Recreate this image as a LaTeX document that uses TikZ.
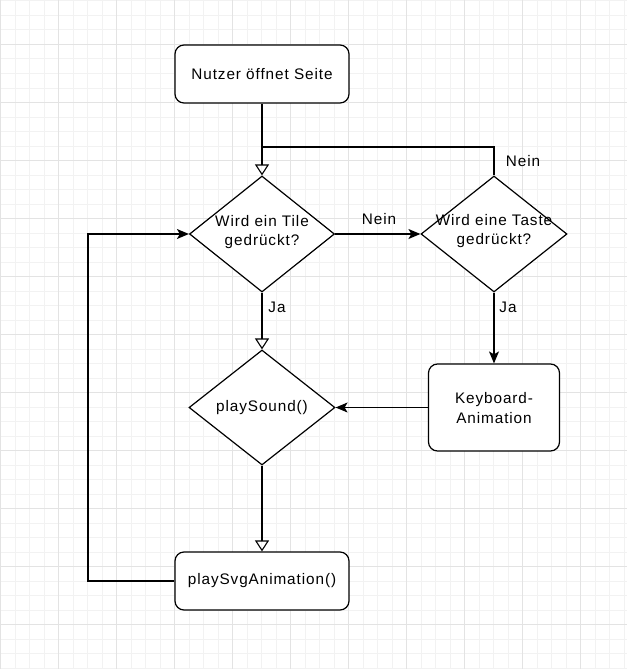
\documentclass[tikz,border=0pt]{standalone}
\usepackage{fontspec}
\setmainfont{Liberation Sans}[LetterSpace=6]
\usetikzlibrary{arrows.meta,shapes.geometric}
\begin{document}
\begin{tikzpicture}[x=1pt,y=-1pt,
  every node/.style={font=\fontsize{15.3}{19.5}\selectfont},
  box/.style={draw,line width=1.2pt,rounded corners=9pt,fill=white,inner sep=0pt},
  dia/.style={draw,line width=1.2pt,diamond,fill=white,inner sep=0pt,minimum width=145pt,minimum height=116pt},
  txt/.style={align=center,inner sep=0pt},
  lbl/.style={inner sep=0pt},
  conn/.style={line width=1.2pt},
  openarr/.style={conn,-{Triangle[open,length=11pt,width=14pt,line width=1.1pt]}},
  solarr/.style={conn,-{Stealth[length=12pt,width=10pt,inset=3pt]}}
]
\useasboundingbox (0,0) rectangle (627,669);
\fill[white] (0,0) rectangle (627,669);
% grid
\foreach \i in {0,...,43} {
  \draw[gray!10,line width=0.6pt] ({0.3+14.5*\i},0) -- ({0.3+14.5*\i},669);
}
\foreach \i in {0,...,46} {
  \draw[gray!10,line width=0.6pt] (0,{0.8+14.5*\i}) -- (627,{0.8+14.5*\i});
}
\foreach \i in {0,...,10} {
  \draw[gray!22,line width=0.7pt] ({0.3+58*\i},0) -- ({0.3+58*\i},669);
}
\foreach \i in {0,...,11} {
  \draw[gray!22,line width=0.7pt] (0,{44.3+58*\i}) -- (627,{44.3+58*\i});
}

% nodes
\node[box,minimum width=174pt,minimum height=58pt] (start) at (262,74) {};
\node[txt] (starttxt) at (start) {Nutzer öffnet Seite};

\node[dia] (tile) at (262,234) {};
\node[txt] (tiletxt) at (262,232) {Wird ein Tile\\gedrückt?};

\node[dia,minimum width=146pt,minimum height=116pt] (taste) at (494,234) {};
\node[txt] (tastetxt) at (494,231) {Wird eine Taste\\gedrückt?};

\node[dia,minimum width=146pt,minimum height=115pt] (sound) at (262,407.5) {};
\node[txt] (soundtxt) at (sound) {playSound()};

\node[box,minimum width=131pt,minimum height=87pt] (kb) at (494,407.5) {};
\node[txt] (kbtxt) at (494,408) {Keyboard-\\Animation};

\node[box,minimum width=174pt,minimum height=58pt] (svg) at (262,581) {};
\node[txt] (svgtxt) at (svg) {playSvgAnimation()};

\coordinate (j1) at (262,147);
\coordinate (j2) at (494,147);
\coordinate (l1) at (88,581);
\coordinate (l2) at (88,234);

% connectors
\draw[openarr] (start.south) -- (tile.north);
\draw[conn] (taste.north) -- (j2) -- (j1);
\draw[solarr] (tile.east) -- (taste.west);
\draw[openarr] (tile.south) -- (sound.north);
\draw[solarr] (taste.south) -- (kb.north);
\draw[solarr] (kb.west) -- (sound.east);
\draw[openarr] (sound.south) -- (svg.north);
\draw[solarr] (svg.west) -- (l1) -- (l2) -- (tile.west);

% labels
\node[lbl] (n1) at (523,161) {Nein};
\node[lbl] (n2) at (379,219) {Nein};
\node[lbl] (ja1) at (277,307) {Ja};
\node[lbl] (ja2) at (508,307) {Ja};
\end{tikzpicture}
\end{document}
